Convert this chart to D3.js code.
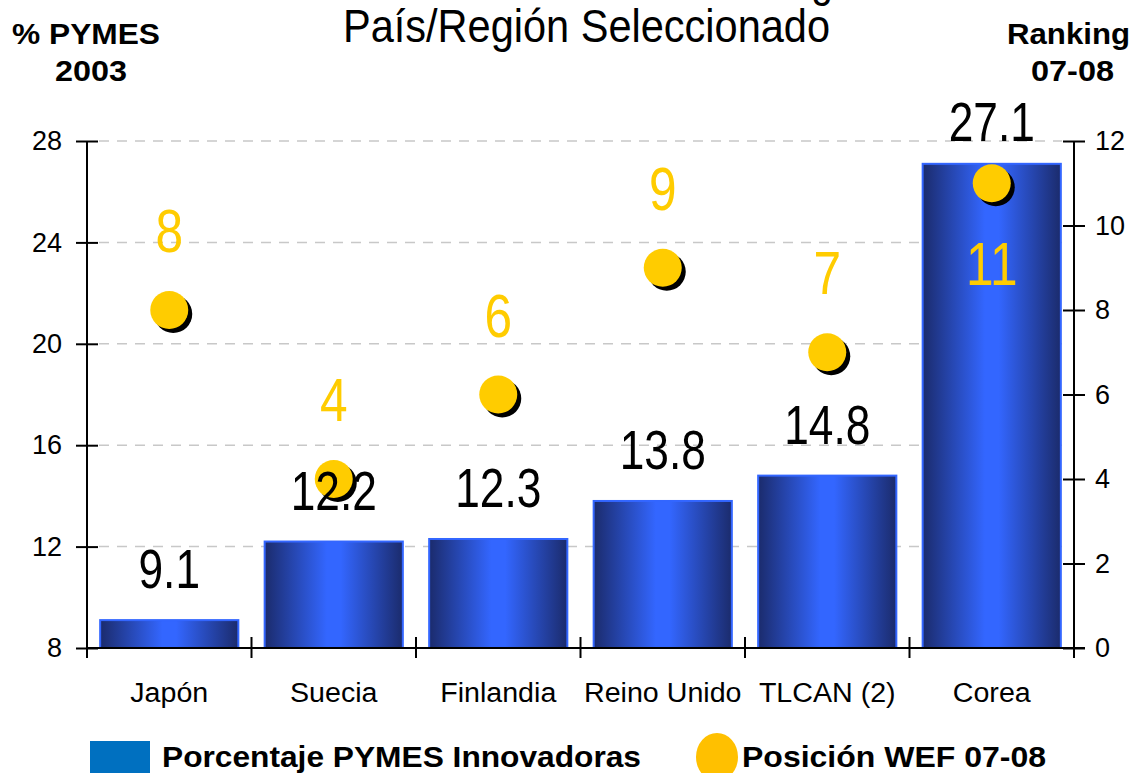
<!DOCTYPE html>
<html>
<head>
<meta charset="utf-8">
<script src="https://cdn.jsdelivr.net/npm/d3@7"></script>
<style>
  body { margin: 0; background: #fff; }
  svg { display: block; font-family: "Liberation Sans", Arial, sans-serif; }
</style>
</head>
<body>
<div id="chart"></div>
<script>
const width = 1134;
const height = 773;

// Data
const categories = ["Japón", "Suecia", "Finlandia", "Reino Unido", "TLCAN (2)", "Corea"];
const pymesPct   = [9.1, 12.2, 12.3, 13.8, 14.8, 27.1];   // left axis, bars
const wefRank    = [8, 4, 6, 9, 7, 11];                   // right axis, circles
const leftTicks  = [8, 12, 16, 20, 24, 28];
const rightTicks = [0, 2, 4, 6, 8, 10, 12];

const plot = { left: 87, right: 1074, top: 141, bottom: 648 };

const svg = d3.select("#chart").append("svg")
    .attr("width", width)
    .attr("height", height);

const x = d3.scaleBand()
    .domain(categories)
    .range([plot.left, plot.right])
    .paddingInner(0.16)
    .paddingOuter(0.08);

const yL = d3.scaleLinear().domain([8, 28]).range([plot.bottom, plot.top]);
const yR = d3.scaleLinear().domain([0, 12]).range([plot.bottom, plot.top]);

// bar gradient: dark navy at the sides, bright blue in the middle
const grad = svg.append("defs").append("linearGradient")
    .attr("id", "barGrad")
    .attr("x1", "0%").attr("x2", "100%").attr("y1", "0%").attr("y2", "0%");
grad.append("stop").attr("offset", "0%").attr("stop-color", "#1b2b6c");
grad.append("stop").attr("offset", "45%").attr("stop-color", "#3366ff");
grad.append("stop").attr("offset", "55%").attr("stop-color", "#3366ff");
grad.append("stop").attr("offset", "100%").attr("stop-color", "#1b2b6c");

// small helper for horizontally scaled text
function label(parent, tx, ty, str, opts) {
  const o = Object.assign({ size: 26, weight: "normal", sx: 1, anchor: "start", fill: "#000" }, opts);
  const t = parent.append("text")
      .attr("transform", "translate(" + tx + "," + ty + ") scale(" + o.sx + ",1)")
      .attr("text-anchor", o.anchor)
      .attr("font-size", o.size)
      .attr("font-weight", o.weight)
      .attr("fill", o.fill)
      .text(str);
  if (o.len) t.attr("textLength", o.len).attr("lengthAdjust", "spacingAndGlyphs");
  return t;
}

// Titles (first line is cut off at the top of the picture)
label(svg, 833, -4, "PYMES Innovadoras vs. Ranking", { size: 46, anchor: "end", sx: 0.85 });
label(svg, 343, 42, "País/Región Seleccionado", { size: 47, len: 487 });
label(svg, 12, 44, "% PYMES", { size: 30, weight: "bold", len: 148 });
label(svg, 55, 81, "2003", { size: 30, weight: "bold", len: 72 });
label(svg, 1007, 44, "Ranking", { size: 30, weight: "bold", len: 123 });
label(svg, 1031, 81, "07-08", { size: 30, weight: "bold", len: 83 });

// gridlines
svg.append("g").selectAll("line")
  .data(leftTicks.filter(d => d > 8))
  .join("line")
    .attr("x1", plot.left + 12).attr("x2", plot.right - 12)
    .attr("y1", d => yL(d)).attr("y2", d => yL(d))
    .attr("stroke", "#c8c8c8")
    .attr("stroke-width", 1.5)
    .attr("stroke-dasharray", "10,8");

// bars
svg.append("g").selectAll("rect")
  .data(categories)
  .join("rect")
    .attr("x", d => x(d))
    .attr("y", (d, i) => yL(pymesPct[i]))
    .attr("width", x.bandwidth())
    .attr("height", (d, i) => plot.bottom - yL(pymesPct[i]))
    .attr("fill", "url(#barGrad)")
    .attr("stroke", "#3366ff")
    .attr("stroke-width", 2);

// left axis
const axL = svg.append("g")
    .attr("transform", "translate(" + plot.left + ",0)")
    .call(d3.axisLeft(yL).tickValues(leftTicks).tickSizeInner(11).tickSizeOuter(0).tickPadding(14));
axL.select(".domain").remove();
axL.selectAll(".tick line").attr("x1", 11).attr("x2", -11).attr("stroke-width", 2);
axL.selectAll(".tick text").attr("font-size", 27).attr("font-family", null);

// right axis
const axR = svg.append("g")
    .attr("transform", "translate(" + plot.right + ",0)")
    .call(d3.axisRight(yR).tickValues(rightTicks).tickSizeInner(11).tickSizeOuter(0).tickPadding(10));
axR.select(".domain").remove();
axR.selectAll(".tick line").attr("x1", -11).attr("x2", 11).attr("stroke-width", 2);
axR.selectAll(".tick text").attr("font-size", 27).attr("font-family", null);

// axis lines
svg.append("line")
    .attr("x1", plot.left).attr("x2", plot.left)
    .attr("y1", plot.top).attr("y2", plot.bottom + 10)
    .attr("stroke", "#000").attr("stroke-width", 2);
svg.append("line")
    .attr("x1", plot.right).attr("x2", plot.right)
    .attr("y1", plot.top).attr("y2", plot.bottom + 10)
    .attr("stroke", "#000").attr("stroke-width", 2);
svg.append("line")
    .attr("x1", plot.left).attr("x2", plot.right + 11)
    .attr("y1", plot.bottom).attr("y2", plot.bottom)
    .attr("stroke", "#000").attr("stroke-width", 2);

// category boundary ticks on the bottom axis
const step = x.step();
svg.append("g").selectAll("line")
  .data(d3.range(1, categories.length))
  .join("line")
    .attr("x1", i => plot.left + i * step).attr("x2", i => plot.left + i * step)
    .attr("y1", plot.bottom - 11).attr("y2", plot.bottom + 10)
    .attr("stroke", "#000").attr("stroke-width", 2);

// category labels
const catG = svg.append("g");
categories.forEach(c => label(catG, x(c) + x.bandwidth() / 2, 702, c, { size: 27, anchor: "middle", sx: 1.06 }));

// WEF ranking circles with black shadow
const dots = svg.append("g");
categories.forEach((c, i) => {
  const cx = x(c) + x.bandwidth() / 2;
  const cy = yR(wefRank[i]);
  dots.append("circle").attr("cx", cx + 4).attr("cy", cy + 4).attr("r", 19).attr("fill", "#000");
  dots.append("circle").attr("cx", cx).attr("cy", cy).attr("r", 19).attr("fill", "#ffcc00");
});

// value labels on the bars
const valG = svg.append("g");
categories.forEach((c, i) => {
  const ty = Math.max(yL(pymesPct[i]) - 32, plot.top);
  label(valG, x(c) + x.bandwidth() / 2, ty, pymesPct[i].toFixed(1), { size: 56, anchor: "middle", sx: 0.79 });
});

// rank labels
const rankG = svg.append("g");
categories.forEach((c, i) => {
  const cy = yR(wefRank[i]);
  let ty = cy - 58;
  if (ty - 44 < plot.top) ty = cy + 102;
  label(rankG, x(c) + x.bandwidth() / 2, ty, wefRank[i], { size: 62, anchor: "middle", sx: 0.8, fill: "#ffcc00" });
});

// legend
svg.append("rect").attr("x", 90).attr("y", 741).attr("width", 60).attr("height", 32).attr("fill", "#0070c0");
label(svg, 162, 767, "Porcentaje PYMES Innovadoras", { size: 30, weight: "bold", len: 479 });
svg.append("ellipse").attr("cx", 717).attr("cy", 757).attr("rx", 21).attr("ry", 24).attr("fill", "#ffc000");
label(svg, 742, 767, "Posición WEF 07-08", { size: 30, weight: "bold", len: 304 });
</script>
</body>
</html>
